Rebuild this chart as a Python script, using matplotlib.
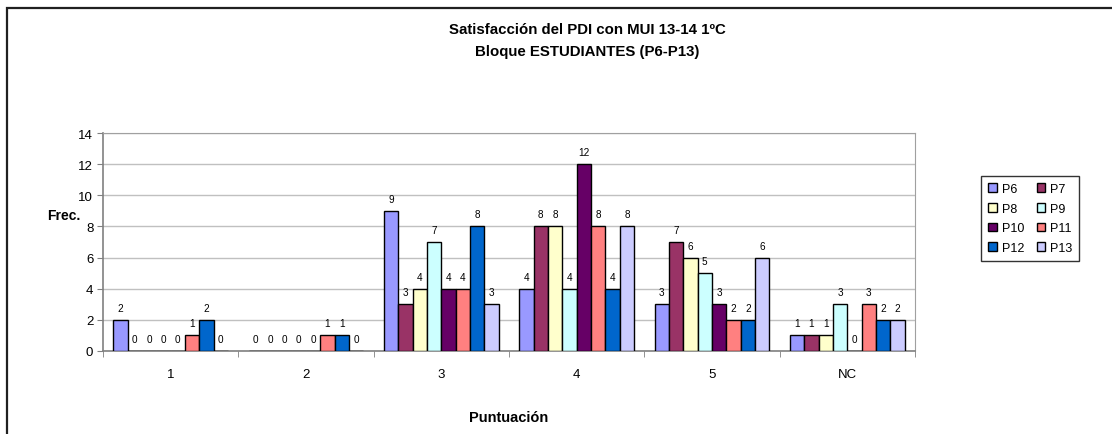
import matplotlib
matplotlib.use("Agg")
import matplotlib.pyplot as plt
import numpy as np
from matplotlib.patches import Rectangle

categories = ["1", "2", "3", "4", "5", "NC"]
series = ["P6", "P7", "P8", "P9", "P10", "P11", "P12", "P13"]
values = {
    "P6": [2, 0, 9, 4, 3, 1],
    "P7": [0, 0, 3, 8, 7, 1],
    "P8": [0, 0, 4, 8, 6, 1],
    "P9": [0, 0, 7, 4, 5, 3],
    "P10": [0, 0, 4, 12, 3, 0],
    "P11": [1, 1, 4, 8, 2, 3],
    "P12": [2, 1, 8, 4, 2, 2],
    "P13": [0, 0, 3, 8, 6, 2],
}
colors = ["#9999FF", "#993366", "#FFFFCC", "#CCFFFF",
          "#660066", "#FF8080", "#0066CC", "#CCCCFF"]

plt.rcParams["font.family"] = ["Liberation Sans", "DejaVu Sans"]

fig = plt.figure(figsize=(11.12, 4.35), dpi=100)
ax = fig.add_axes([103 / 1112, 1 - 352 / 435, 812 / 1112, 218 / 435])

n = len(series)
bw = 0.106
x = np.arange(len(categories))
handles = []
for i, (name, col) in enumerate(zip(series, colors)):
    pos = x - (n - 1) / 2 * bw + i * bw
    vals = values[name]
    bars = ax.bar(pos, vals, width=bw, color=col, edgecolor="black",
                  linewidth=1.0, label=name, zorder=3)
    handles.append(bars)
    for px, v in zip(pos, vals):
        ax.annotate(str(v), (px, v), xytext=(0, 5), textcoords="offset points",
                    ha="center", va="bottom", fontsize=7.2, zorder=4)

ax.set_xlim(-0.5, len(categories) - 0.5)
ax.set_ylim(0, 14)
ax.set_yticks(range(0, 15, 2))
ax.set_xticks(x)
ax.set_xticklabels(categories, fontsize=9.5)
ax.set_xticks(np.arange(-0.5, len(categories), 1), minor=True)
ax.tick_params(axis="x", which="major", length=0, pad=12)
ax.tick_params(axis="x", which="minor", length=4, color="#808080")
ax.tick_params(axis="y", labelsize=9.5, length=4, color="#808080", pad=3)
ax.yaxis.grid(True, color="#c0c0c0", linewidth=1.0, zorder=0)
for side in ["top", "right"]:
    ax.spines[side].set_color("#a0a0a0")
ax.spines["left"].set_color("#808080")
ax.spines["bottom"].set_color("#808080")
ax.spines["left"].set_linewidth(1.2)
ax.spines["bottom"].set_linewidth(1.2)

ax.set_xlabel("Puntuación", fontsize=10.5, fontweight="bold", labelpad=22)
fig.text(47 / 1112, 1 - 216 / 435, "Frec.", fontsize=10, fontweight="bold",
         ha="left", va="center")

fig.text(0.528, 1 - 30 / 435, "Satisfacción del PDI con MUI 13-14 1ºC",
         fontsize=10.8, fontweight="bold", ha="center", va="center")
fig.text(0.528, 1 - 52 / 435, "Bloque ESTUDIANTES (P6-P13)",
         fontsize=10.8, fontweight="bold", ha="center", va="center")

order = [0, 2, 4, 6, 1, 3, 5, 7]
leg = fig.legend([handles[i] for i in order], [series[i] for i in order],
                 ncol=2, loc="upper left",
                 bbox_to_anchor=(981 / 1112, 1 - 177 / 435),
                 fontsize=9, frameon=True, fancybox=False,
                 edgecolor="black", handlelength=0.7, handleheight=0.7,
                 handletextpad=0.4, columnspacing=1.0, labelspacing=0.62,
                 borderpad=0.55, borderaxespad=0)
leg.get_frame().set_linewidth(1.0)

fig.patches.append(Rectangle((7 / 1112, -0.1), 1.2, 1.1 - 9 / 435,
                             transform=fig.transFigure, fill=False,
                             edgecolor="#202020", linewidth=1.6))

fig.savefig("out.png", dpi=100)
